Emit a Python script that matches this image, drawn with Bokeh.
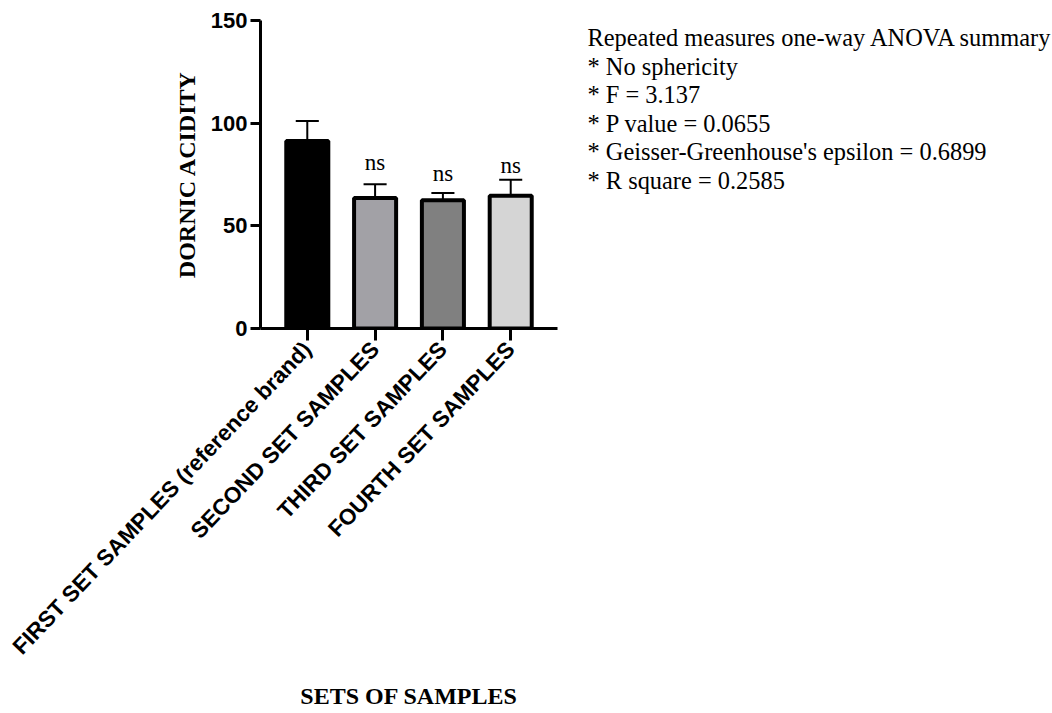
from bokeh.plotting import figure
from bokeh.layouts import row
from bokeh.models import FixedTicker, Range1d
from bokeh.embed import file_html
from bokeh.resources import INLINE
from bokeh.core.properties import value

# ---- data ----
categories = ["FIRST SET SAMPLES (reference brand)", "SECOND SET SAMPLES",
              "THIRD SET SAMPLES", "FOURTH SET SAMPLES"]
means = [91.3, 63.6, 62.4, 64.7]
sd = [9.8, 6.6, 3.6, 7.8]
bar_colors = ["#000000", "#A2A1A6", "#808080", "#D5D5D5"]
ns_text = ["ns", "ns", "ns"]
ns_y = [81.0, 75.3, 79.4]
y_ticks = [0, 50, 100, 150]
anova_lines = [
    "Repeated measures one-way ANOVA summary",
    "* No sphericity",
    "* F = 3.137",
    "* P value = 0.0655",
    "* Geisser-Greenhouse's epsilon = 0.6899",
    "* R square = 0.2585",
]

xs = [i + 1 for i in range(len(categories))]
upper = [m + s for m, s in zip(means, sd)]

LEFT_W = 586
p = figure(width=LEFT_W, height=713, x_range=(0.31, 4.69), y_range=(0, 150),
           output_backend="svg", toolbar_location=None,
           min_border_left=260, min_border_right=LEFT_W - 557,
           min_border_top=20, min_border_bottom=385)
p.outline_line_color = None
p.xgrid.visible = False
p.ygrid.visible = False
p.background_fill_color = "white"
p.border_fill_color = "white"

# bars
p.vbar(x=xs, top=means, width=0.62, bottom=0, fill_color=bar_colors,
       line_color="black", line_width=4)
# error bars (upper only)
p.segment(x0=xs, y0=means, x1=xs, y1=upper, line_color="black", line_width=2)
cap = 0.17
p.segment(x0=[x - cap for x in xs], y0=upper, x1=[x + cap for x in xs], y1=upper,
          line_color="black", line_width=2)

# ns labels
p.text(x=xs[1:], y=ns_y, text=ns_text, text_align="center",
       text_baseline="alphabetic", text_font=value("Liberation Serif"),
       text_font_size="23px", text_color="black")

# axes
for ax in (p.xaxis[0], p.yaxis[0]):
    ax.axis_line_width = 3
    ax.axis_line_color = "black"
    ax.major_tick_line_width = 3
    ax.major_tick_line_color = "black"
    ax.major_tick_in = 0
    ax.minor_tick_line_color = None
    ax.major_label_text_font = "Liberation Sans"
    ax.major_label_text_font_style = "bold"
    ax.major_label_text_color = "black"
    ax.axis_label_text_font = "Liberation Serif"
    ax.axis_label_text_font_style = "bold"
    ax.axis_label_text_color = "black"
    ax.axis_label_text_font_size = "24px"

p.yaxis.ticker = FixedTicker(ticks=y_ticks)
p.yaxis.major_tick_out = 10
p.yaxis.major_label_text_font_size = "22px"
p.yaxis.major_label_standoff = 3
p.yaxis.axis_label = "DORNIC ACIDITY"
p.yaxis.axis_label_standoff = 8

p.xaxis.ticker = FixedTicker(ticks=xs)
p.xaxis.major_label_overrides = {x: c for x, c in zip(xs, categories)}
p.xaxis.major_label_orientation = 0.81
p.xaxis.major_tick_out = 12
p.xaxis.major_label_text_font_size = "22.5px"
p.xaxis.major_label_standoff = 5
p.xaxis.axis_label = "SETS OF SAMPLES"
p.xaxis.axis_label_standoff = 12

# ANOVA summary text panel on the right.  Its frame is aligned with the
# left plot's frame (page y 20..328), so the range maps page pixels directly.
RIGHT_W = 1052 - LEFT_W
q = figure(width=RIGHT_W, height=713, x_range=Range1d(0, RIGHT_W),
           y_range=Range1d(328, 20), output_backend="svg", toolbar_location=None,
           x_axis_type=None, y_axis_type=None, min_border=0)
q.outline_line_color = None
q.xgrid.visible = False
q.ygrid.visible = False
line_y = [37 + i * 28.5 for i in range(len(anova_lines))]
q.text(x=[1] * len(anova_lines), y=line_y, text=anova_lines,
       text_font=value("Liberation Serif"), text_font_size="24.4px",
       text_color="black", text_baseline="alphabetic", text_align="left")

layout = row(p, q, spacing=0)
open("out.html", "w").write(file_html(layout, INLINE))
